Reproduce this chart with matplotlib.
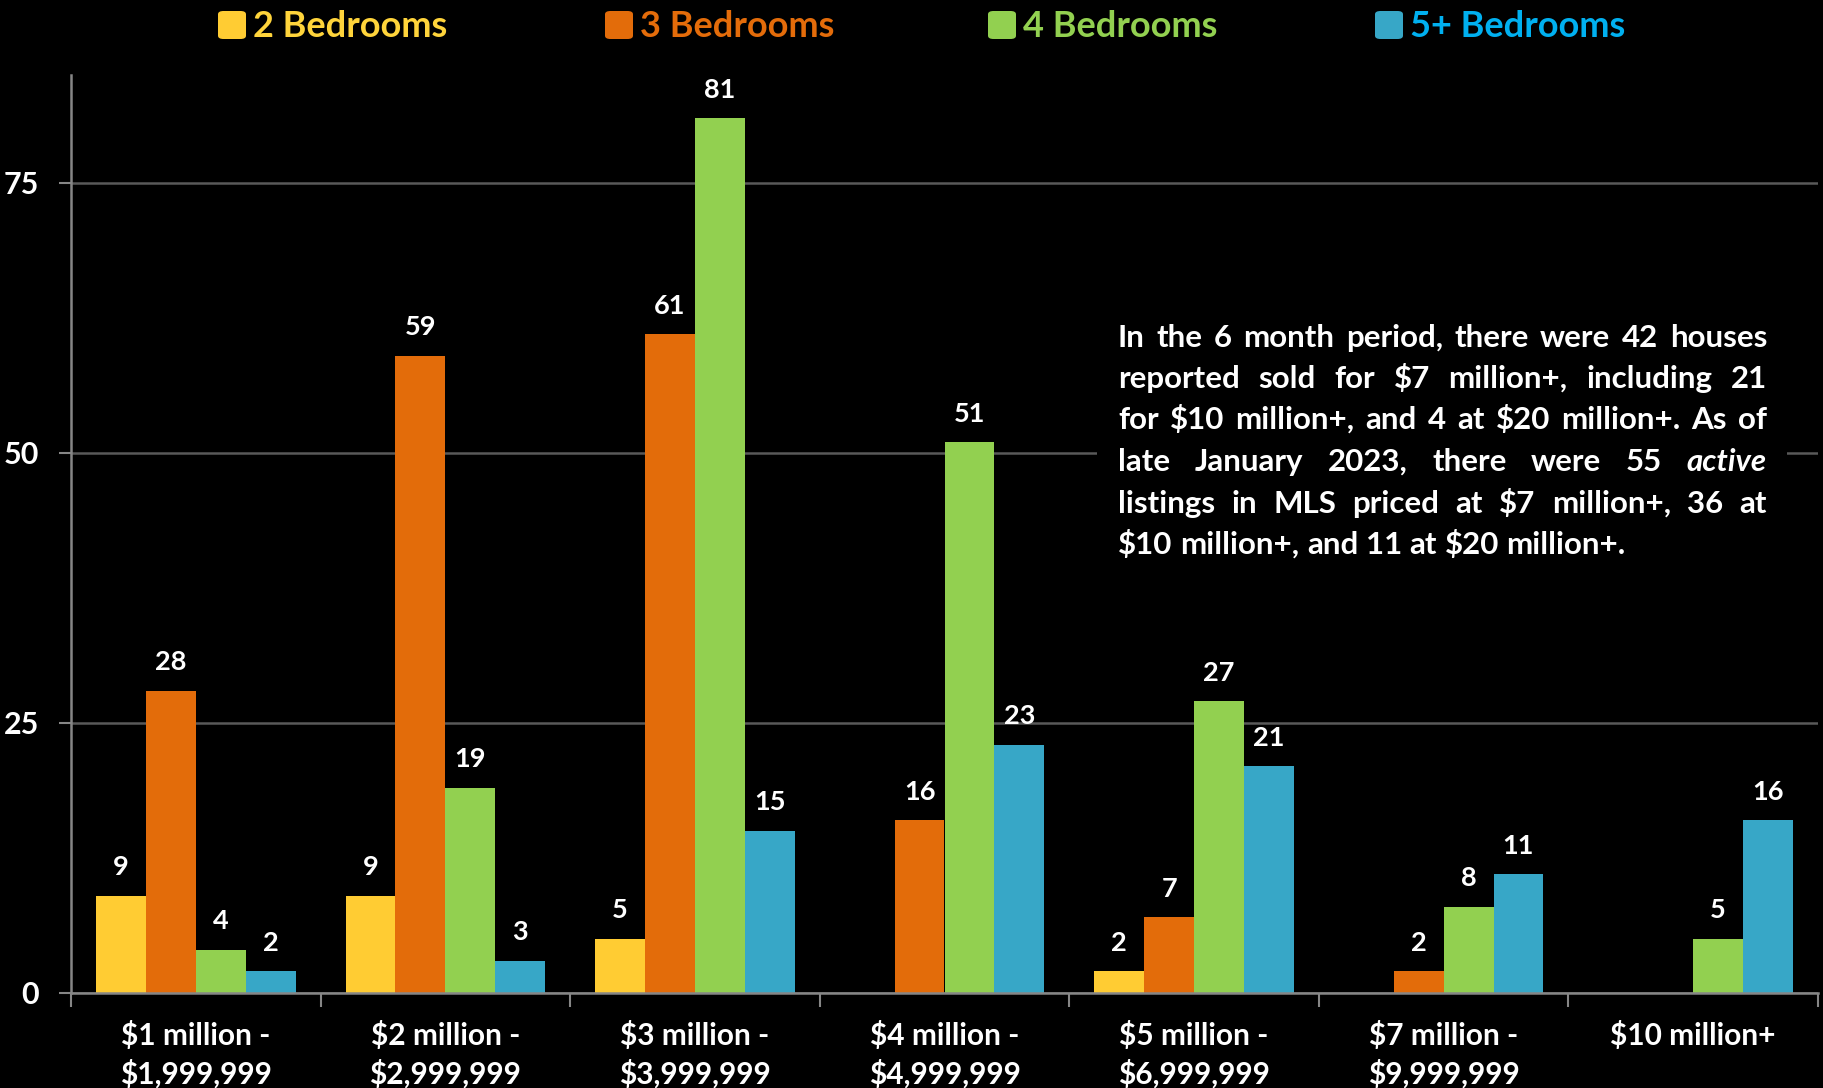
import numpy as np
import matplotlib
matplotlib.use('Agg')
from matplotlib import pyplot as plt
from matplotlib.patches import FancyBboxPatch, Rectangle

## data
categories = ['$1 million -\n$1,999,999', '$2 million -\n$2,999,999',
              '$3 million -\n$3,999,999', '$4 million -\n$4,999,999',
              '$5 million -\n$6,999,999', '$7 million -\n$9,999,999',
              '$10 million+']
series_names = ['2 Bedrooms', '3 Bedrooms', '4 Bedrooms', '5+ Bedrooms']
beds2 = [9, 9, 5, 0, 2, 0, 0]
beds3 = [28, 59, 61, 16, 7, 2, 0]
beds4 = [4, 19, 81, 51, 27, 8, 5]
beds5 = [2, 3, 15, 23, 21, 11, 16]
yticks = [0, 25, 50, 75]

note_lines = [
    "In the 6 month period, there were 42 houses",
    "reported sold for $7 million+, including 21",
    "for $10 million+, and 4 at $20 million+. As of",
    "late January 2023, there were 55 _active",
    "listings in MLS priced at $7 million+, 36 at",
    "$10 million+, and 11 at $20 million+.",
]

bar_colors = ['#FFCC33', '#E36C0A', '#92D050', '#37A7C7']
text_colors = ['#FFD43B', '#E46C0A', '#92D050', '#00B0F0']

FONT = ['Lato', 'DejaVu Sans']
plt.rcParams['font.family'] = FONT
plt.rcParams['font.weight'] = 'bold'

W, H = 1823, 1088
fig = plt.figure(figsize=(W / 100, H / 100), dpi=100, facecolor='black')
ax = fig.add_axes([71 / W, 1 - 993 / H, (1818 - 71) / W, (993 - 75) / H])
ax.set_facecolor('black')

x = np.arange(len(categories))
bw = 0.2
all_series = [beds2, beds3, beds4, beds5]
for i, vals in enumerate(all_series):
    xs = x + (i - 1.5) * bw
    for xi, v in zip(xs, vals):
        if v == 0:
            continue
        ax.bar(xi, v, width=bw, color=bar_colors[i], zorder=3, linewidth=0)
        ax.annotate(str(v), (xi, v), xytext=(0, 12), textcoords='offset points',
                    ha='center', va='bottom', color='white', fontsize=19.5,
                    fontweight='bold', zorder=4)

ax.set_xlim(-0.5, len(categories) - 0.5)
ax.set_ylim(0, 85)
ax.set_yticks(yticks)
ax.set_yticklabels([str(t) for t in yticks], color='white', fontsize=22,
                   fontweight='bold')
ax.tick_params(axis='y', length=9, width=1.5, color='#868686', pad=14)
ax.yaxis.grid(True, color='#595959', linewidth=1.8, zorder=0)
ax.set_axisbelow(True)

ax.set_xticks(x)
ax.set_xticklabels(categories, color='white', fontsize=21.5, fontweight='bold',
                   linespacing=1.4)
ax.tick_params(axis='x', length=0, pad=20)
ax.set_xticks(np.arange(len(categories) + 1) - 0.5, minor=True)
ax.tick_params(axis='x', which='minor', length=10, width=1.5, color='#868686')

for s in ['top', 'right']:
    ax.spines[s].set_visible(False)
for s in ['left', 'bottom']:
    ax.spines[s].set_color('#868686')
    ax.spines[s].set_linewidth(1.8)
ax.spines['bottom'].set_zorder(5)

## black box behind the note (hides the gridline)
fig.patches.append(Rectangle((1097 / W, 1 - 575 / H), (1787 - 1097) / W,
                             (575 - 305) / H, transform=fig.transFigure,
                             facecolor='black', edgecolor='none', zorder=2))

## legend drawn by hand
legend_x = [218, 605, 988, 1375]
for i, name in enumerate(series_names):
    lx = legend_x[i]
    fig.patches.append(FancyBboxPatch((lx / W, 1 - 39 / H), 28 / W, 28 / H,
                                      boxstyle='round,pad=0,rounding_size=0.003',
                                      transform=fig.transFigure,
                                      facecolor=bar_colors[i], edgecolor='none'))
    fig.text((lx + 35) / W, 1 - 37 / H, name, color=text_colors[i],
             fontsize=26, fontweight='bold', va='baseline', ha='left')

## justified note text
fig.canvas.draw()
renderer = fig.canvas.get_renderer()
x0, x1 = 1118, 1767
line_base = [347, 388, 429, 471, 513, 554]


def make_word(w, px, py):
    italic = w.startswith('_')
    t = fig.text(px / W, 1 - py / H, w.lstrip('_'), color='white', fontsize=22.5,
                 fontweight='bold', style='italic' if italic else 'normal',
                 va='baseline', ha='left', parse_math=False)
    return t


sp = make_word('a a', 0, 0)
sp2 = make_word('aa', 0, 0)
space_w = sp.get_window_extent(renderer).width - sp2.get_window_extent(renderer).width
sp.remove()
sp2.remove()

for li, line in enumerate(note_lines):
    words = line.split(' ')
    texts = [make_word(w, x0, line_base[li]) for w in words]
    widths = [t.get_window_extent(renderer).width for t in texts]
    if li < len(note_lines) - 1 and len(words) > 1:
        gap = (x1 - x0 - sum(widths)) / (len(words) - 1)
    else:
        gap = space_w
    cx = x0
    for t, wd in zip(texts, widths):
        t.set_x(cx / W)
        cx += wd + gap

fig.savefig('out.png', facecolor='black', dpi=100)
